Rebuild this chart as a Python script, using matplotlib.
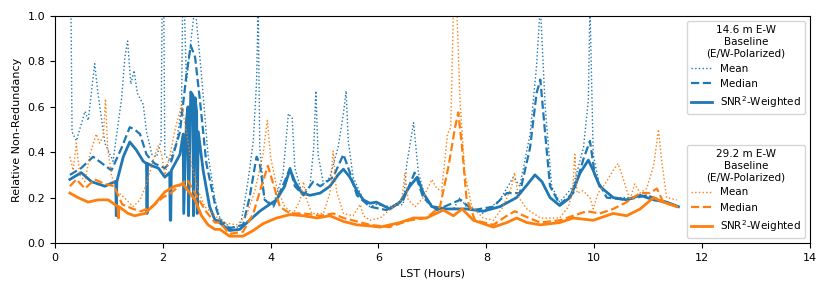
import matplotlib
matplotlib.use("Agg")
import matplotlib.pyplot as plt

# LST hours / relative non-redundancy
# 14.6 m E-W baseline
ew14_mean_x = [0.28, 0.30, 0.32, 0.40, 0.56, 0.62, 0.74, 0.80, 0.93, 1.08, 1.24, 1.30, 1.35, 1.41, 1.47,
               1.53, 1.64, 1.70, 1.80, 1.89, 1.97, 1.99, 2.02, 2.04, 2.13, 2.26, 2.35, 2.37, 2.40, 2.44,
               2.50, 2.60, 2.66, 2.72, 2.84, 2.97, 3.06, 3.24, 3.43, 3.49, 3.58, 3.68, 3.74, 3.77, 3.80,
               3.89, 4.05, 4.23, 4.33, 4.40, 4.45, 4.58, 4.73, 4.80, 4.84, 4.88, 4.98, 5.10, 5.25, 5.35,
               5.40, 5.44, 5.53, 5.72, 5.84, 5.97, 6.20, 6.46, 6.52, 6.65, 6.74, 6.89, 7.08, 7.39, 7.51,
               7.63, 7.94, 8.25, 8.50, 8.62, 8.81, 8.93, 9.00, 9.09, 9.21, 9.36, 9.61, 9.80, 9.89, 9.92,
               9.98, 10.10, 10.35, 10.72, 10.97, 11.22, 11.53]
ew14_mean_y = [1.05, 1.05, 0.49, 0.45, 0.58, 0.54, 0.79, 0.66, 0.44, 0.36, 0.64, 0.82, 0.89, 0.70, 0.76,
               0.66, 0.61, 0.49, 0.39, 0.38, 0.45, 1.05, 1.05, 0.39, 0.36, 0.45, 0.60, 1.05, 1.05, 0.71,
               0.84, 1.05, 0.89, 0.74, 0.39, 0.19, 0.11, 0.07, 0.07, 0.14, 0.27, 0.45, 0.71, 1.05, 0.42,
               0.19, 0.17, 0.30, 0.57, 0.55, 0.33, 0.22, 0.25, 0.42, 0.67, 0.39, 0.26, 0.29, 0.42, 0.57,
               0.67, 0.45, 0.29, 0.19, 0.16, 0.17, 0.16, 0.17, 0.34, 0.53, 0.31, 0.18, 0.15, 0.15, 0.20,
               0.16, 0.13, 0.19, 0.29, 0.25, 0.48, 0.78, 1.05, 0.60, 0.25, 0.18, 0.25, 0.42, 0.63, 1.05,
               0.39, 0.25, 0.20, 0.20, 0.21, 0.19, 0.16]

ew14_median_x = [0.28, 0.49, 0.71, 1.05, 1.24, 1.39, 1.48, 1.58, 1.70, 1.85, 2.04, 2.16, 2.32, 2.44, 2.52,
                 2.60, 2.69, 2.81, 2.97, 3.06, 3.24, 3.49, 3.61, 3.74, 3.80, 3.89, 4.05, 4.26, 4.36, 4.45,
                 4.61, 4.79, 4.92, 5.16, 5.35, 5.47, 5.60, 5.84, 6.15, 6.46, 6.67, 6.83, 7.08, 7.51, 7.76,
                 8.13, 8.38, 8.62, 8.81, 8.93, 9.00, 9.09, 9.18, 9.36, 9.61, 9.80, 9.92, 10.01, 10.23, 10.60,
                 10.97, 11.22, 11.53]
ew14_median_y = [0.30, 0.33, 0.38, 0.32, 0.42, 0.51, 0.50, 0.48, 0.39, 0.35, 0.33, 0.36, 0.49, 0.74, 0.87,
                 0.82, 0.63, 0.35, 0.17, 0.10, 0.065, 0.08, 0.20, 0.38, 0.35, 0.19, 0.16, 0.27, 0.33, 0.25,
                 0.21, 0.27, 0.25, 0.29, 0.39, 0.31, 0.21, 0.16, 0.145, 0.19, 0.31, 0.20, 0.145, 0.19, 0.145,
                 0.16, 0.22, 0.22, 0.42, 0.66, 0.72, 0.48, 0.25, 0.17, 0.22, 0.37, 0.45, 0.30, 0.20, 0.19,
                 0.21, 0.19, 0.16]

ew14_snr_x = [0.28, 0.49, 0.68, 0.93, 1.11, 1.13, 1.14, 1.15, 1.27, 1.39, 1.51, 1.64, 1.70, 1.71, 1.72,
              1.80, 1.92, 2.04, 2.13, 2.14, 2.15, 2.16, 2.32, 2.38, 2.39, 2.44, 2.47, 2.48, 2.52, 2.56,
              2.57, 2.60, 2.63, 2.64, 2.66, 2.75, 2.87, 2.97, 3.00, 3.24, 3.43, 3.61, 3.80, 3.95, 4.11,
              4.26, 4.36, 4.45, 4.58, 4.73, 4.92, 5.10, 5.25, 5.35, 5.47, 5.60, 5.72, 5.84, 5.96, 6.21,
              6.40, 6.58, 6.72, 6.83, 6.99, 7.26, 7.63, 7.94, 8.25, 8.56, 8.75, 8.90, 9.03, 9.18, 9.36,
              9.55, 9.74, 9.89, 9.98, 10.10, 10.35, 10.60, 10.85, 11.10, 11.34, 11.56]
ew14_snr_y = [0.28, 0.31, 0.27, 0.25, 0.27, 0.27, 0.12, 0.27, 0.38, 0.445, 0.41, 0.36, 0.35, 0.13, 0.35,
              0.34, 0.33, 0.29, 0.31, 0.10, 0.10, 0.32, 0.39, 0.48, 0.13, 0.54, 0.60, 0.12, 0.665, 0.65,
              0.12, 0.64, 0.58, 0.13, 0.49, 0.32, 0.16, 0.10, 0.10, 0.055, 0.06, 0.10, 0.14, 0.165, 0.19,
              0.25, 0.325, 0.27, 0.22, 0.21, 0.22, 0.25, 0.30, 0.325, 0.29, 0.23, 0.19, 0.175, 0.18, 0.15,
              0.18, 0.25, 0.29, 0.22, 0.16, 0.15, 0.15, 0.14, 0.16, 0.20, 0.255, 0.30, 0.27, 0.20, 0.165,
              0.20, 0.31, 0.365, 0.32, 0.25, 0.20, 0.19, 0.21, 0.19, 0.18, 0.16]

# 29.2 m E-W baseline
ew29_mean_x = [0.28, 0.34, 0.40, 0.46, 0.56, 0.65, 0.77, 0.83, 0.90, 0.94, 0.98, 1.05, 1.14, 1.24, 1.33,
               1.45, 1.58, 1.70, 1.82, 1.92, 1.98, 2.04, 2.13, 2.22, 2.35, 2.44, 2.53, 2.66, 2.78, 2.97,
               3.12, 3.37, 3.55, 3.71, 3.86, 3.94, 4.00, 4.11, 4.26, 4.42, 4.55, 4.61, 4.67, 4.76, 4.98,
               5.10, 5.16, 5.22, 5.35, 5.53, 5.66, 5.72, 5.84, 6.03, 6.27, 6.43, 6.49, 6.55, 6.68, 6.83,
               6.99, 7.08, 7.17, 7.28, 7.34, 7.39, 7.45, 7.51, 7.60, 7.73, 7.94, 8.13, 8.31, 8.47, 8.52,
               8.60, 8.75, 9.00, 9.36, 9.52, 9.60, 9.64, 9.68, 9.79, 9.92, 9.98, 10.07, 10.20, 10.35, 10.44,
               10.54, 10.66, 10.75, 10.85, 10.97, 11.10, 11.19, 11.25, 11.34, 11.53]
ew29_mean_y = [0.38, 0.32, 0.44, 0.30, 0.27, 0.39, 0.48, 0.44, 0.47, 0.635, 0.42, 0.30, 0.23, 0.21, 0.19,
               0.16, 0.19, 0.26, 0.36, 0.43, 0.39, 0.30, 0.38, 0.49, 0.61, 0.49, 0.35, 0.23, 0.16, 0.12,
               0.09, 0.08, 0.12, 0.23, 0.39, 0.54, 0.38, 0.25, 0.16, 0.13, 0.19, 0.27, 0.19, 0.13, 0.13,
               0.22, 0.405, 0.23, 0.13, 0.12, 0.17, 0.12, 0.10, 0.11, 0.16, 0.19, 0.31, 0.19, 0.16, 0.20,
               0.28, 0.24, 0.23, 0.48, 0.51, 1.05, 1.05, 0.63, 0.31, 0.16, 0.11, 0.10, 0.16, 0.25, 0.31,
               0.20, 0.15, 0.11, 0.11, 0.16, 0.23, 0.39, 0.22, 0.23, 0.20, 0.15, 0.22, 0.26, 0.32, 0.35,
               0.28, 0.19, 0.26, 0.22, 0.24, 0.34, 0.50, 0.36, 0.20, 0.19]

ew29_median_x = [0.28, 0.40, 0.56, 0.74, 0.93, 1.10, 1.25, 1.45, 1.60, 1.80, 2.00, 2.15, 2.30, 2.45, 2.55,
                 2.65, 2.80, 2.97, 3.06, 3.24, 3.49, 3.68, 3.83, 3.95, 4.05, 4.17, 4.36, 4.61, 4.92, 5.16,
                 5.35, 5.60, 5.84, 6.20, 6.58, 6.89, 7.14, 7.30, 7.42, 7.48, 7.55, 7.63, 7.79, 8.13, 8.38,
                 8.53, 8.69, 9.00, 9.36, 9.61, 9.86, 10.10, 10.35, 10.60, 10.85, 11.03, 11.16, 11.28, 11.53]
ew29_median_y = [0.25, 0.28, 0.24, 0.28, 0.26, 0.25, 0.17, 0.15, 0.14, 0.16, 0.20, 0.22, 0.25, 0.28, 0.24,
                 0.20, 0.14, 0.09, 0.09, 0.04, 0.05, 0.13, 0.25, 0.34, 0.26, 0.16, 0.13, 0.13, 0.12, 0.13,
                 0.11, 0.095, 0.08, 0.07, 0.10, 0.11, 0.16, 0.34, 0.51, 0.575, 0.42, 0.20, 0.10, 0.08, 0.12,
                 0.14, 0.12, 0.09, 0.10, 0.12, 0.14, 0.13, 0.15, 0.18, 0.22, 0.22, 0.24, 0.18, 0.16]

ew29_snr_x = [0.28, 0.43, 0.62, 0.80, 0.99, 1.17, 1.18, 1.19, 1.36, 1.48, 1.67, 1.85, 2.04, 2.22, 2.38,
              2.47, 2.60, 2.72, 2.84, 2.97, 3.06, 3.24, 3.49, 3.68, 3.86, 4.11, 4.36, 4.61, 4.86, 5.10,
              5.35, 5.60, 5.84, 6.03, 6.40, 6.65, 6.89, 7.20, 7.39, 7.55, 7.76, 8.13, 8.38, 8.56, 8.75,
              9.00, 9.36, 9.61, 9.98, 10.35, 10.60, 10.85, 11.10, 11.28, 11.53]
ew29_snr_y = [0.22, 0.20, 0.18, 0.19, 0.19, 0.16, 0.11, 0.16, 0.13, 0.12, 0.13, 0.17, 0.225, 0.25, 0.26,
              0.23, 0.19, 0.12, 0.08, 0.06, 0.06, 0.03, 0.03, 0.055, 0.085, 0.11, 0.125, 0.12, 0.11, 0.12,
              0.095, 0.08, 0.075, 0.07, 0.09, 0.11, 0.11, 0.145, 0.12, 0.15, 0.10, 0.07, 0.09, 0.11, 0.09,
              0.08, 0.09, 0.11, 0.10, 0.13, 0.12, 0.15, 0.20, 0.18, 0.16]

blue = '#1f77b4'
orange = '#ff7f0e'

fig, ax = plt.subplots(figsize=(8.3, 2.91), dpi=100)
fig.subplots_adjust(left=0.066, right=0.976, bottom=0.165, top=0.945)

l1, = ax.plot(ew14_mean_x, ew14_mean_y, ':', color=blue, lw=1.0, label='Mean')
l2, = ax.plot(ew14_median_x, ew14_median_y, '--', color=blue, lw=1.6, label='Median')
l3, = ax.plot(ew14_snr_x, ew14_snr_y, '-', color=blue, lw=2.0, label='SNR$^2$-Weighted')
l4, = ax.plot(ew29_mean_x, ew29_mean_y, ':', color=orange, lw=1.0, label='Mean')
l5, = ax.plot(ew29_median_x, ew29_median_y, '--', color=orange, lw=1.6, label='Median')
l6, = ax.plot(ew29_snr_x, ew29_snr_y, '-', color=orange, lw=2.0, label='SNR$^2$-Weighted')

ax.set_xlim(0, 14)
ax.set_ylim(0, 1)
ax.set_xticks(range(0, 15, 2))
ax.set_yticks([0.0, 0.2, 0.4, 0.6, 0.8, 1.0])
ax.tick_params(labelsize=8)
ax.set_xlabel('LST (Hours)', fontsize=8)
ax.set_ylabel('Relative Non-Redundancy', fontsize=8)

leg1 = ax.legend(handles=[l1, l2, l3], loc='upper right', fontsize=7.5,
                 title='14.6 m E-W\nBaseline\n(E/W-Polarized)', title_fontsize=7.5)
leg1.get_title().set_multialignment('center')
ax.add_artist(leg1)
leg2 = ax.legend(handles=[l4, l5, l6], loc='lower right', fontsize=7.5,
                 title='29.2 m E-W\nBaseline\n(E/W-Polarized)', title_fontsize=7.5)
leg2.get_title().set_multialignment('center')

fig.savefig('out.png', dpi=100)
